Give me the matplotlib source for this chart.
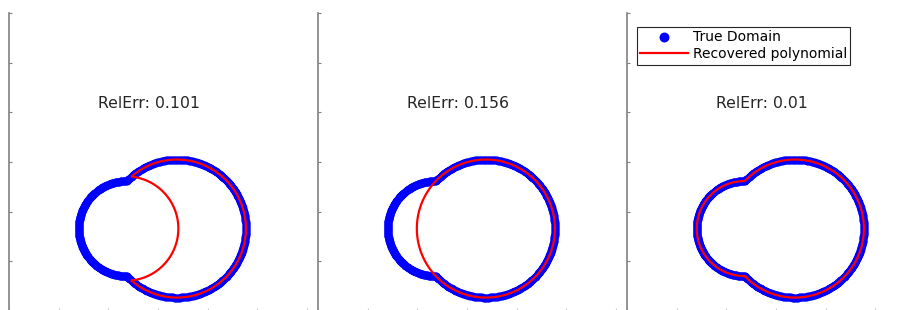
import numpy as np
import matplotlib
matplotlib.use("Agg")
import matplotlib.pyplot as plt

# geometry of the true domain (union of two discs), axis units
big_center = [3.38, 1.66]
big_radius = 1.39
small_center = [2.36, 1.66]
small_radius = 0.956
cut_radius = 1.05  # disc removed by the first recovered polynomial

rel_errs = [0.101, 0.156, 0.01]
recovered = ["crescent", "big", "union"]

x_ticks = [0, 1, 2, 3, 4, 5, 6]
y_ticks = [0, 1, 2, 3, 4, 5, 6]


def circle(c, r, t):
    return c[0] + r * np.cos(t), c[1] + r * np.sin(t)


def outside(x, y, c, r):
    return (x - c[0]) ** 2 + (y - c[1]) ** 2 > r ** 2


def union_curve(n=600):
    t1 = np.linspace(-np.pi, np.pi, n)
    bx, by = circle(big_center, big_radius, t1)
    m = outside(bx, by, small_center, small_radius)
    t2 = np.linspace(0, 2 * np.pi, n)
    sx, sy = circle(small_center, small_radius, t2)
    k = outside(sx, sy, big_center, big_radius)
    x = np.concatenate([bx[m], sx[k], bx[m][:1]])
    y = np.concatenate([by[m], sy[k], by[m][:1]])
    return x, y


def crescent_curve(n=600):
    t1 = np.linspace(-np.pi, np.pi, n)
    bx, by = circle(big_center, big_radius, t1)
    m = outside(bx, by, small_center, cut_radius)
    cx, cy = circle(small_center, cut_radius, t1)
    k = ~outside(cx, cy, big_center, big_radius)
    x = np.concatenate([bx[m], cx[k][::-1], bx[m][:1]])
    y = np.concatenate([by[m], cy[k][::-1], by[m][:1]])
    return x, y


def big_curve(n=600):
    t = np.linspace(0, 2 * np.pi, n)
    return circle(big_center, big_radius, t)


curves = {"crescent": crescent_curve, "big": big_curve, "union": union_curve}

fig = plt.figure(figsize=(9.12, 3.10), dpi=100)
W, H = 912.0, 310.0
lefts = [9, 318, 627]
size = 298

tx, ty = union_curve(700)

for i in range(3):
    ax = fig.add_axes([lefts[i] / W, (H - 13 - size) / H, size / W, size / H])
    ax.plot(tx, ty, 'o', color='#0000ff', markersize=5.5, markeredgewidth=0,
            label='True Domain')
    rx, ry = curves[recovered[i]]()
    ax.plot(rx, ry, '-', color='#ff0000', linewidth=1.6,
            label='Recovered polynomial')
    ax.text(1.8, 4.18, 'RelErr: %s' % rel_errs[i], ha='left', va='center',
            fontsize=11.3, color='#262626')
    ax.set_xlim(0, 6)
    ax.set_ylim(0, 6)
    ax.set_xticks(x_ticks)
    ax.set_yticks(y_ticks)
    ax.set_xticklabels([])
    ax.set_yticklabels([])
    for s in ['top', 'right', 'bottom']:
        ax.spines[s].set_visible(False)
    ax.spines['left'].set_color('#808080')
    ax.spines['left'].set_linewidth(1.2)
    ax.tick_params(axis='y', direction='in', length=2.5, color='#808080')
    ax.tick_params(axis='x', direction='in', length=2.5, color='#c8c8c8')
    if i == 2:
        leg = ax.legend(loc='upper left', bbox_to_anchor=(10 / size, 1 - 14 / size),
                        borderaxespad=0, fontsize=10, fancybox=False,
                        edgecolor='#262626', framealpha=1, handlelength=3.4,
                        handletextpad=0.35, labelspacing=0.2, borderpad=0.25,
                        markerscale=1.3)
        leg.get_frame().set_linewidth(0.8)

fig.savefig('out.png', dpi=100)
